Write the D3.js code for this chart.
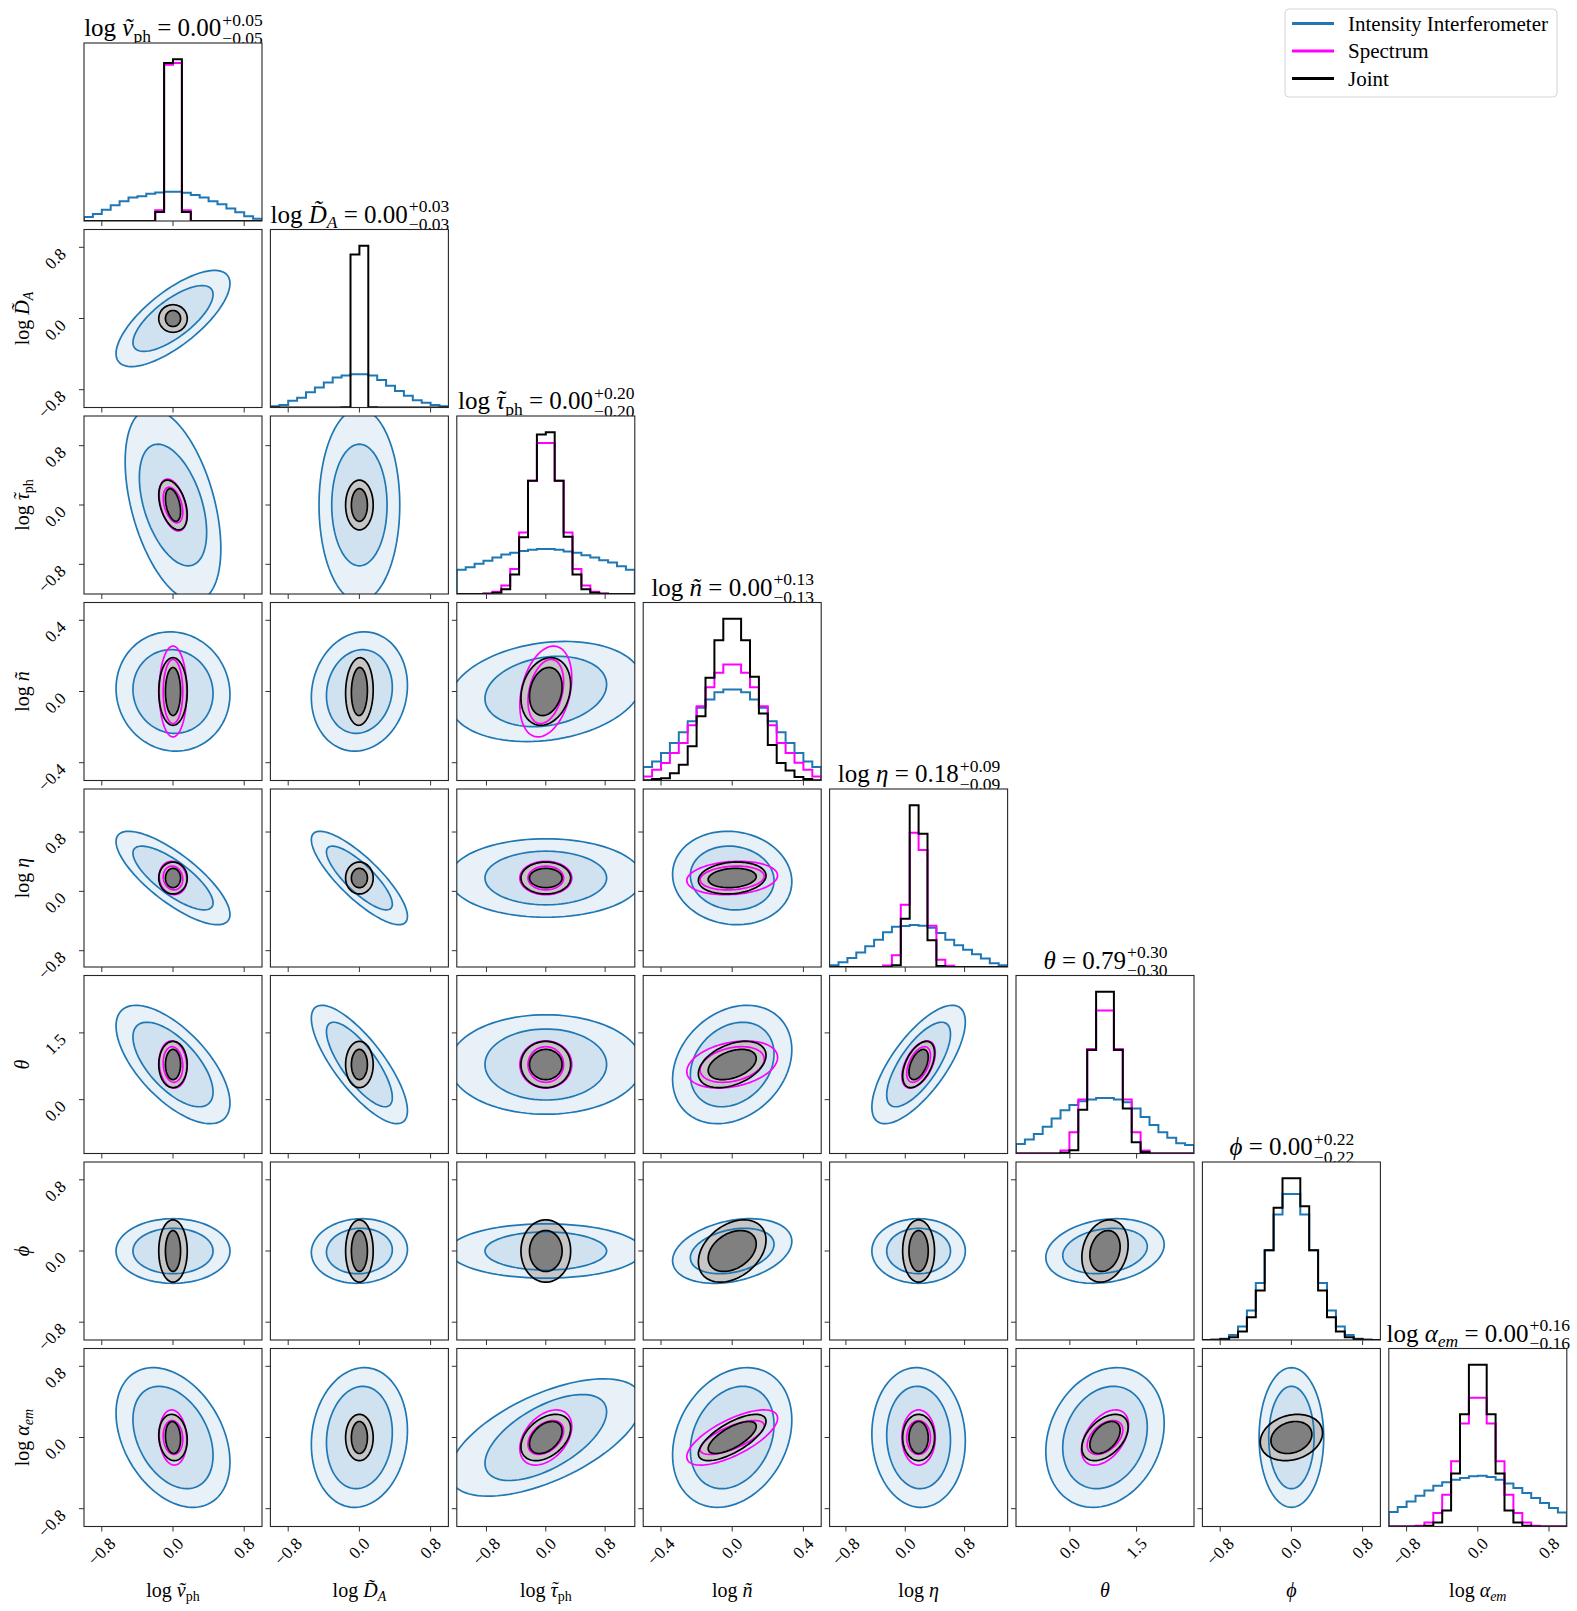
<!DOCTYPE html>
<html>
<head>
<meta charset="utf-8">
<script src="https://cdn.jsdelivr.net/npm/d3@7/dist/d3.min.js"></script>
<style>
body { margin: 0; background: #fff; }
text { font-family: "Liberation Serif", "DejaVu Serif", serif; fill: #000; }
</style>
</head>
<body>
<div class="chart"></div>
<script>
// ---- parameters (order of the corner plot) ----
// label parts: r roman, i italic, t italic with a separate tilde on top, s / si subscript
var paramNames = ["log_v_ph", "log_D_A", "log_tau_ph", "log_n", "log_eta", "theta", "phi", "log_alpha_em"];
var paramLabels = [
  [["log ", "r"], ["v\u0303", "i"], ["ph", "s"]],
  [["log ", "r"], ["D\u0303", "i"], ["A", "si"]],
  [["log ", "r"], ["\u03c4", "t"], ["ph", "s"]],
  [["log ", "r"], ["\u00f1", "i"]],
  [["log ", "r"], ["\u03b7", "i"]],
  [["\u03b8", "i"]],
  [["\u03d5", "i"]],
  [["log ", "r"], ["\u03b1", "i"], ["em", "si"]]
];
var centers   = [0, 0, 0, 0, 0.18, 0.79, 0, 0];
var halfSpans = [1.0, 1.0, 1.2, 0.5, 1.2, 2.0, 1.0, 1.0];
var tickValues = [[-0.8, 0, 0.8], [-0.8, 0, 0.8], [-0.8, 0, 0.8], [-0.4, 0, 0.4],
                  [-0.8, 0, 0.8], [0, 1.5], [-0.8, 0, 0.8], [-0.8, 0, 0.8]];
var titleValues = ["0.00", "0.00", "0.00", "0.00", "0.18", "0.79", "0.00", "0.00"];
var titleErrs   = ["0.05", "0.03", "0.20", "0.13", "0.09", "0.30", "0.22", "0.16"];

// ---- 1D histograms, 20 bins over each axis range ----
var histInterf = [
  [0.025,0.043,0.07,0.097,0.122,0.145,0.153,0.169,0.176,0.18,0.18,0.174,0.16,0.145,0.122,0.103,0.077,0.054,0.029,0.014],
  [0.007,0.016,0.041,0.06,0.095,0.124,0.154,0.185,0.197,0.206,0.206,0.197,0.17,0.135,0.102,0.072,0.045,0.029,0.016,0.007],
  [0.15,0.165,0.187,0.206,0.226,0.244,0.255,0.266,0.273,0.278,0.278,0.273,0.262,0.255,0.24,0.226,0.209,0.195,0.172,0.15],
  [0.083,0.118,0.17,0.232,0.298,0.366,0.449,0.5,0.546,0.562,0.562,0.546,0.5,0.449,0.366,0.298,0.232,0.17,0.118,0.083],
  [0.011,0.03,0.056,0.09,0.129,0.169,0.215,0.248,0.253,0.26,0.255,0.242,0.21,0.169,0.135,0.106,0.079,0.052,0.023,0.011],
  [0.059,0.086,0.12,0.165,0.217,0.267,0.3,0.323,0.334,0.343,0.343,0.334,0.316,0.278,0.226,0.176,0.131,0.097,0.063,0.052],
  [0,0.002,0.008,0.031,0.083,0.182,0.352,0.554,0.775,0.903,0.903,0.775,0.554,0.352,0.182,0.083,0.031,0.008,0.002,0],
  [0.089,0.12,0.155,0.19,0.223,0.252,0.273,0.289,0.3,0.31,0.314,0.306,0.289,0.265,0.238,0.207,0.176,0.145,0.114,0.087]
];
var histSpec = [
  [0,0,0,0,0,0,0,0,0.066,0.965,0.976,0.066,0,0,0,0,0,0,0,0],
  null,
  [0,0,0,0.003,0.014,0.052,0.154,0.38,0.70,0.933,0.933,0.70,0.38,0.154,0.052,0.014,0.003,0,0,0],
  [0.025,0.066,0.108,0.17,0.232,0.341,0.459,0.577,0.666,0.717,0.717,0.666,0.577,0.459,0.341,0.232,0.17,0.11,0.066,0.025],
  [0,0,0,0,0,0,0.01,0.072,0.384,0.829,0.723,0.255,0.045,0.008,0,0,0,0,0,0],
  [0,0,0,0,0,0.018,0.131,0.334,0.646,0.883,0.883,0.646,0.334,0.131,0.018,0,0,0,0,0],
  null,
  [0,0,0,0.004,0.025,0.083,0.196,0.403,0.637,0.796,0.796,0.637,0.403,0.196,0.083,0.025,0.004,0,0,0]
];
var histJoint = [
  [0,0,0,0,0,0,0,0,0.055,0.976,1.0,0.055,0,0,0,0,0,0,0,0],
  [0,0,0,0,0,0,0,0,0.002,0.945,1.0,0.002,0,0,0,0,0,0,0,0],
  [0,0,0,0.002,0.007,0.03,0.12,0.35,0.70,0.985,1.0,0.70,0.354,0.12,0.03,0.007,0.002,0,0,0],
  [0.002,0.01,0.014,0.045,0.097,0.211,0.397,0.635,0.867,1.0,1.0,0.867,0.641,0.414,0.22,0.108,0.062,0.021,0.009,0.002],
  [0,0,0,0,0,0,0,0.011,0.298,1.0,0.824,0.165,0.006,0,0,0,0,0,0,0],
  [0,0,0,0,0,0.005,0.02,0.27,0.639,1.0,1.0,0.639,0.278,0.07,0.01,0,0,0,0,0],
  [0,0.001,0.004,0.017,0.052,0.141,0.306,0.554,0.817,1.0,1.0,0.827,0.554,0.306,0.141,0.052,0.017,0.004,0.001,0],
  [0,0,0,0,0.004,0.025,0.099,0.327,0.693,1.0,1.0,0.693,0.327,0.099,0.025,0.004,0,0,0,0]
];

// ---- 2D contours: half extent of outer / inner level per parameter ----
var interfOuter = [0.64, 0.54, 1.30, 0.335, 0.63, 1.33, 0.363, 0.785];
var interfInner = [0.45, 0.37, 0.82, 0.235, 0.43, 0.95, 0.255, 0.575];
var interfTauFactor = 0.84;   // partner extent is smaller in the broad tau panels
var specOuter  = [0.155, null, 0.35, 0.255, 0.225, 0.53, null, 0.31];
var specInner  = [0.11, null, 0.24, 0.18, 0.16, 0.40, null, 0.19];
var jointOuter = [0.16, 0.155, 0.335, 0.19, 0.215, 0.52, 0.35, 0.26];
var jointInner = [0.085, 0.09, 0.22, 0.135, 0.13, 0.34, 0.23, 0.18];

// correlations, row parameter (y) against each earlier column parameter (x)
var rhoInterf = [[], [0.73], [-0.45, 0.0], [-0.05, 0.1, 0.2], [-0.78, -0.82, 0.0, -0.08],
  [-0.65, -0.78, 0.0, 0.25, 0.72], [0.0, 0.05, 0.0, 0.3, 0.0, 0.2], [-0.35, 0.1, 0.6, 0.25, -0.05, 0.2, 0.0]];
var rhoSpec = [[], [null], [-0.4, null], [0.0, null, 0.3], [-0.1, null, 0.0, 0.15],
  [-0.1, null, 0.0, 0.3, 0.5], [null, null, null, null, null, null], [-0.1, null, 0.4, 0.7, 0.0, 0.45, null]];
var rhoJoint = [[], [0.0], [-0.4, 0.0], [0.0, 0.05, 0.2], [0.0, 0.0, 0.0, 0.15],
  [0.0, 0.0, 0.0, 0.4, 0.5], [0.0, 0.0, 0.0, 0.35, 0.0, 0.2], [-0.1, 0.0, 0.4, 0.7, 0.0, 0.45, 0.2]];

var legendNames = ["Intensity Interferometer", "Spectrum", "Joint"];
var colInterf = "#1f77b4", colSpec = "#ff00ff", colJoint = "#000000";

// ---- layout ----
var W = 1577, H = 1611;
var size = 178, left0 = 84, top0 = 43, stepX = 186.4, stepY = 186.5;
var nP = paramNames.length;
var tickFs = 17;

var svg = d3.select(".chart").append("svg").attr("width", W).attr("height", H);
svg.append("rect").attr("width", W).attr("height", H).attr("fill", "#fff");

function panelX(i) { return left0 + stepX * i; }
function panelY(j) { return top0 + stepY * j; }
function xScale(k, i) {
  return d3.scaleLinear().domain([centers[k] - halfSpans[k], centers[k] + halfSpans[k]]).range([panelX(i), panelX(i) + size]);
}
function yScale(k, j) {
  return d3.scaleLinear().domain([centers[k] - halfSpans[k], centers[k] + halfSpans[k]]).range([panelY(j) + size, panelY(j)]);
}
function fmt(v) { return (v < 0 ? "\u2212" : "") + Math.abs(v).toFixed(1); }

// math-ish text: roman, italic, subscripts; returns char positions that need a tilde
function addMath(textSel, parts, fs) {
  var shift = 0, idx = 0, tildes = [];
  parts.forEach(function(p) {
    var kind = p[1];
    var isSub = kind === "s" || kind === "si";
    var t = textSel.append("tspan").text(p[0]);
    if (kind === "i" || kind === "si" || kind === "t") t.style("font-style", "italic");
    if (isSub) {
      t.style("font-size", (fs * 0.7) + "px");
      if (shift === 0) { t.attr("dy", 0.22 * fs); shift = 0.22 * fs; }
    } else if (shift !== 0) {
      t.attr("dy", -shift); shift = 0;
    }
    if (kind === "t") tildes.push({ idx: idx });
    idx += p[0].length;
  });
  return tildes;
}
// tilde accents as absolutely placed tspans at the end of the same text
function placeTildes(textSel, tildes, fs, baseY) {
  var pos = tildes.map(function(td) {
    var ext = textSel.node().getExtentOfChar(td.idx);
    return { x: ext.x + ext.width / 2 + fs * 0.07, y: baseY - 0.03 * fs };
  });
  pos.forEach(function(p) {
    textSel.append("tspan").attr("x", p.x).attr("y", p.y).attr("text-anchor", "middle")
      .style("font-size", fs + "px").style("font-style", "normal").text("\u02dc");
  });
}

// ---- titles over the diagonal (drawn first, panels cover the low part) ----
for (var k = 0; k < nP; k++) {
  var g = svg.append("g");
  var ty = panelY(k);
  var main = g.append("text").attr("y", ty - 7).style("font-size", "25px");
  var tt = addMath(main, paramLabels[k].concat([[" = " + titleValues[k], "r"]]), 25);
  var w = main.node().getComputedTextLength();
  var sup = g.append("text").attr("y", ty - 17.5).style("font-size", "17.5px").text("+" + titleErrs[k]);
  var sub = g.append("text").attr("y", ty + 0.5).style("font-size", "17.5px").text("\u2212" + titleErrs[k]);
  var sw = Math.max(sup.node().getComputedTextLength(), sub.node().getComputedTextLength());
  var x0 = panelX(k) + size / 2 - (w + sw) / 2;
  main.attr("x", x0);
  sup.attr("x", x0 + w + 1);
  sub.attr("x", x0 + w + 1);
  placeTildes(main, tt, 25, ty - 7);
}

function ellipsePts(cx, cy, sx, sy, rho) {
  var s = Math.sqrt(1 - rho * rho);
  return d3.range(0, 97).map(function(i) {
    var t = i / 96 * 2 * Math.PI;
    return [cx + sx * Math.cos(t), cy + sy * (rho * Math.cos(t) + s * Math.sin(t))];
  });
}

var defs = svg.append("defs");

for (var row = 0; row < nP; row++) {
  for (var col = 0; col <= row; col++) {
    var px = panelX(col), py = panelY(row);
    var xs = xScale(col, col);
    var clipId = "clip" + row + "_" + col;
    defs.append("clipPath").attr("id", clipId).append("rect")
      .attr("x", px).attr("y", py).attr("width", size).attr("height", size);
    var pg = svg.append("g");
    pg.append("rect").attr("x", px).attr("y", py).attr("width", size).attr("height", size).attr("fill", "#fff");
    var cg = pg.append("g").attr("clip-path", "url(#" + clipId + ")");

    if (row === col) {
      // histogram panel
      var lo = centers[col] - halfSpans[col], hi = centers[col] + halfSpans[col];
      var edges = d3.range(21).map(function(i) { return lo + (hi - lo) * i / 20; });
      var all = histInterf[col].concat(histJoint[col], histSpec[col] || []);
      var hy = d3.scaleLinear().domain([0, 1.1 * d3.max(all)]).range([py + size, py]);
      var stepLine = d3.line().x(function(d) { return xs(d[0]); }).y(function(d) { return hy(d[1]); });
      var drawHist = function(vals, color, lw) {
        if (!vals) return;
        var pts = [[edges[0], 0]];
        vals.forEach(function(v, i) { pts.push([edges[i], v]); pts.push([edges[i + 1], v]); });
        pts.push([edges[20], 0]);
        cg.append("path").attr("d", stepLine(pts)).attr("fill", "none")
          .attr("stroke", color).attr("stroke-width", lw).attr("stroke-linejoin", "miter");
      };
      drawHist(histInterf[col], colInterf, 2);
      drawHist(histSpec[col], colSpec, 2);
      drawHist(histJoint[col], colJoint, 2);
    } else {
      var ys = yScale(row, row);
      var line = d3.line().x(function(d) { return xs(d[0]); }).y(function(d) { return ys(d[1]); })
        .curve(d3.curveLinearClosed);
      var cx = centers[col], cy = centers[row];
      // interferometer
      var fx = row === 2 ? interfTauFactor : 1, fy = col === 2 ? interfTauFactor : 1;
      var rI = rhoInterf[row][col];
      var iOut = line(ellipsePts(cx, cy, interfOuter[col] * fx, interfOuter[row] * fy, rI));
      var iIn = line(ellipsePts(cx, cy, interfInner[col] * fx, interfInner[row] * fy, rI));
      cg.append("path").attr("d", iOut).attr("fill", "#e8f1f8");
      cg.append("path").attr("d", iIn).attr("fill", "#d0e2f0");
      // joint fills
      var rJ = rhoJoint[row][col];
      var jOut = line(ellipsePts(cx, cy, jointOuter[col], jointOuter[row], rJ));
      var jIn = line(ellipsePts(cx, cy, jointInner[col], jointInner[row], rJ));
      cg.append("path").attr("d", jOut).attr("fill", "#c6c6c6");
      cg.append("path").attr("d", jIn).attr("fill", "#808080");
      // interferometer lines
      cg.append("path").attr("d", iOut).attr("fill", "none").attr("stroke", colInterf).attr("stroke-width", 1.7);
      cg.append("path").attr("d", iIn).attr("fill", "none").attr("stroke", colInterf).attr("stroke-width", 1.7);
      // spectrum lines
      var rS = rhoSpec[row][col];
      if (rS !== null && rS !== undefined) {
        [specOuter, specInner].forEach(function(ext) {
          cg.append("path").attr("d", line(ellipsePts(cx, cy, ext[col], ext[row], rS)))
            .attr("fill", "none").attr("stroke", colSpec).attr("stroke-width", 1.7);
        });
      }
      // joint lines
      cg.append("path").attr("d", jOut).attr("fill", "none").attr("stroke", colJoint).attr("stroke-width", 1.7);
      cg.append("path").attr("d", jIn).attr("fill", "none").attr("stroke", colJoint).attr("stroke-width", 1.7);

      // y ticks on the left side
      tickValues[row].forEach(function(t) {
        pg.append("line").attr("x1", px - 5).attr("x2", px).attr("y1", ys(t)).attr("y2", ys(t))
          .attr("stroke", "#333").attr("stroke-width", 1);
        if (col === 0) {
          pg.append("text").attr("text-anchor", "end").attr("dominant-baseline", "central")
            .style("font-size", tickFs + "px")
            .attr("transform", "translate(" + (px - 21) + "," + (ys(t) + 4) + ") rotate(-45)")
            .text(fmt(t));
        }
      });
    }

    // frame
    pg.append("rect").attr("x", px).attr("y", py).attr("width", size).attr("height", size)
      .attr("fill", "none").attr("stroke", "#262626").attr("stroke-width", 1.1);

    // x ticks at the bottom
    tickValues[col].forEach(function(t) {
      pg.append("line").attr("x1", xs(t)).attr("x2", xs(t)).attr("y1", py + size).attr("y2", py + size + 5)
        .attr("stroke", "#333").attr("stroke-width", 1);
      if (row === nP - 1) {
        var lab = pg.append("text").attr("text-anchor", "middle").attr("dominant-baseline", "central")
          .style("font-size", tickFs + "px").text(fmt(t));
        var lw = lab.node().getComputedTextLength();
        var half = (lw + 12) / (2 * Math.SQRT2);
        lab.attr("transform", "translate(" + xs(t) + "," + (py + size + 10 + half) + ") rotate(-45)");
      }
    });
  }
}

// ---- axis labels ----
for (var i = 0; i < nP; i++) {
  var xl = svg.append("text").attr("text-anchor", "middle").style("font-size", "20px")
    .attr("x", panelX(i) + size / 2).attr("y", 1597);
  placeTildes(xl, addMath(xl, paramLabels[i], 20), 20, 1597);
  if (i > 0) {
    var yg = svg.append("g").attr("transform", "translate(29," + (panelY(i) + size / 2) + ") rotate(-90)");
    var yl = yg.append("text").attr("text-anchor", "middle").style("font-size", "20px");
    placeTildes(yl, addMath(yl, paramLabels[i], 20), 20, 0);
  }
}

// ---- legend ----
var leg = svg.append("g");
leg.append("rect").attr("x", 1285).attr("y", 9).attr("width", 272).attr("height", 88).attr("rx", 4)
  .attr("fill", "#fff").attr("stroke", "#d4d4d4").attr("stroke-width", 1);
[colInterf, colSpec, colJoint].forEach(function(c, i) {
  var yy = 23.5 + i * 27.5;
  leg.append("line").attr("x1", 1292).attr("x2", 1334).attr("y1", yy).attr("y2", yy)
    .attr("stroke", c).attr("stroke-width", 3);
  leg.append("text").attr("x", 1348).attr("y", yy + 7).style("font-size", "21px").text(legendNames[i]);
});
</script>
</body>
</html>
